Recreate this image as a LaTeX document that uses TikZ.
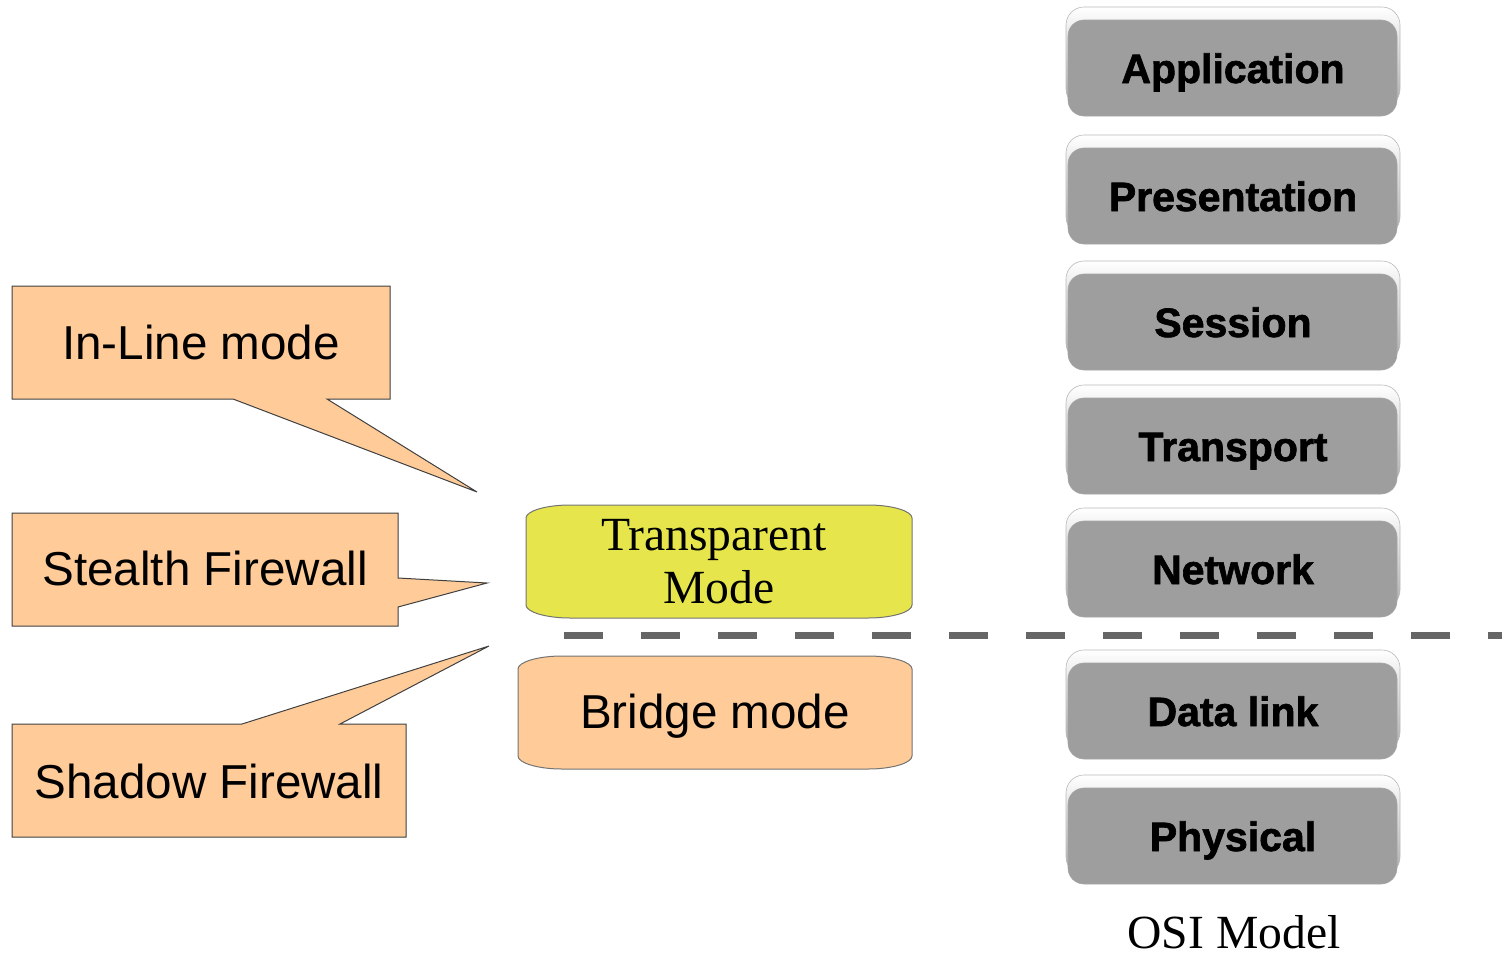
\documentclass[tikz,border=0pt]{standalone}
\usepackage{fontspec}
\setmainfont{Liberation Serif}
\setsansfont{Liberation Sans}
\newfontfamily\osifont[FakeBold=1.6]{Liberation Sans Bold}
\definecolor{calloutfill}{RGB}{255,204,153}
\definecolor{transfill}{RGB}{230,230,76}
\definecolor{osiface}{RGB}{158,158,158}
\definecolor{dashcol}{RGB}{102,102,102}
\tikzset{
  callout/.style={fill=calloutfill, draw=black!75, line width=1pt, line join=miter},
  sanslbl/.style={inner sep=0pt, anchor=base, font=\sffamily\fontsize{47.6}{57}\selectfont},
  seriflbl/.style={inner sep=0pt, anchor=base, font=\rmfamily\fontsize{47.6}{57}\selectfont},
  osilbl/.style={inner sep=0pt, anchor=base, font=\osifont\fontsize{41}{50}\selectfont},
  osiback/.style={top color=white, bottom color=gray!65, draw=gray!55, line width=0.6pt, rounded corners=18pt},
  osifront/.style={fill=osiface, draw=gray!70, line width=0.6pt, rounded corners=16pt},
  modebox/.style={draw=black!55, line width=1pt},
  dashline/.style={draw=dashcol, line width=7pt, dash pattern=on 39pt off 38pt}
}
\newcommand\osiLayer[3]{%
  \path[osiback] (1066,#1) rectangle (1400,#1+100);
  \path[osifront] (1068,#1+13) rectangle (1397,#1+109);
  \node[osilbl] (#3) at (1233,#1+76) {#2};
}
% mode box with elliptical corners: x1,y1,x2,y2
\newcommand\modeShape[5]{%
  \draw[modebox, fill=#5]
  (#1,#2+13) .. controls (#1,#2+6) and (#1+20,#2) .. (#1+44,#2) -- (#3-44,#2)
  .. controls (#3-20,#2) and (#3,#2+6) .. (#3,#2+13) -- (#3,#4-13)
  .. controls (#3,#4-6) and (#3-20,#4) .. (#3-44,#4) -- (#1+44,#4)
  .. controls (#1+20,#4) and (#1,#4-6) .. (#1,#4-13) -- cycle;
}
\begin{document}
\begin{tikzpicture}[x=1pt,y=-1pt]
\useasboundingbox (0,0) rectangle (1502,959);

% callouts
\draw[callout] (12,286) -- (390,286) -- (390,399) -- (327,399) -- (477,492) -- (233,399) -- (12,399) -- cycle;
\node[sanslbl] (inline) at (201,359) {In-Line mode};

\draw[callout] (12,513) -- (398,513) -- (398,578) -- (487,583) -- (398,607) -- (398,626) -- (12,626) -- cycle;
\node[sanslbl] (stealth) at (205,585) {Stealth Firewall};

\draw[callout] (12,724) -- (242,724) -- (489,646) -- (340,724) -- (406,724) -- (406,837) -- (12,837) -- cycle;
\node[sanslbl] (shadow) at (209,798) {Shadow Firewall};

% mode boxes
\modeShape{526}{505}{912}{618}{transfill}
\node[seriflbl] (trans1) at (714,550) {Transparent};
\node[seriflbl] (trans2) at (719,603) {Mode};

\modeShape{518}{656}{912}{769}{calloutfill}
\node[sanslbl] (bridge) at (715,728) {Bridge mode};

% OSI stack
\osiLayer{7}{Application}{app}
\osiLayer{135}{Presentation}{pres}
\osiLayer{261}{Session}{sess}
\osiLayer{385}{Transport}{trans}
\osiLayer{508}{Network}{net}
\osiLayer{650}{Data link}{dlink}
\osiLayer{775}{Physical}{phys}
\node[seriflbl] (osi) at (1234,948) {OSI Model};

% dashed separator
\coordinate (dashL) at (564,635);
\coordinate (dashR) at (1502,635);
\draw[dashline] (dashL) -- (dashR);
\end{tikzpicture}
\end{document}
